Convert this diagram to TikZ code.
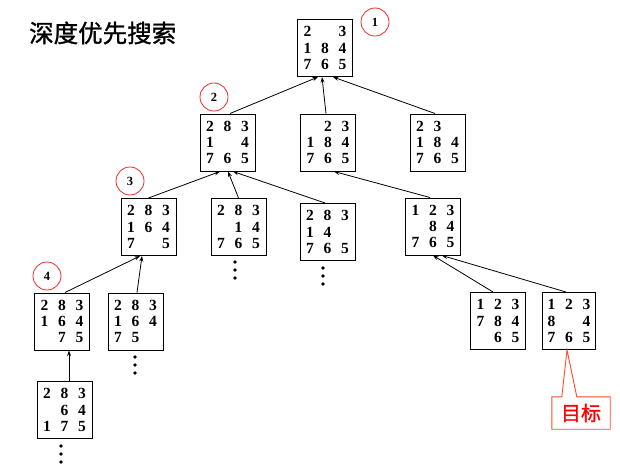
\documentclass[tikz,border=0pt]{standalone}
\usepackage{fontspec}
\setmainfont{Liberation Serif}
\newfontfamily\cjk{Noto Sans CJK SC}
\newfontfamily\cjkb[FakeBold=1.2]{Noto Sans CJK SC}
\usetikzlibrary{arrows.meta}
\definecolor{circred}{HTML}{EE2A2A}
\definecolor{callred}{HTML}{FF4A26}
\definecolor{textred}{HTML}{FF0000}
\newcommand{\cl}[1]{\makebox[17.5pt]{#1}}
\newcommand{\pz}[9]{\cl{#1}\cl{#2}\cl{#3}\\\cl{#4}\cl{#5}\cl{#6}\\\cl{#7}\cl{#8}\cl{#9}}
\tikzset{
  pbox/.style={draw=black, line width=1pt, minimum width=55pt, minimum height=57pt,
    inner sep=0pt, align=center, font=\fontsize{15.5}{16.3}\selectfont\bfseries},
  edge/.style={draw=black, line width=0.8pt, -{Stealth[length=5.5pt,width=4pt]}},
  mark circ/.style={draw=circred, line width=0.8pt, circle, minimum size=28pt, inner sep=0pt,
    font=\fontsize{12.5}{13}\selectfont\bfseries},
  dotfill/.style={fill=black},
}
\begin{document}
\begin{tikzpicture}[x=1pt,y=-1pt]
\useasboundingbox (0,0) rectangle (620,468);
% title
\node[anchor=west, inner sep=0pt, font=\cjkb\fontsize{24.5}{26}\selectfont] (title) at (29,33) {深度优先搜索};
% level 0
\node[pbox] (root) at (325,48) {\pz{2}{}{3}{1}{8}{4}{7}{6}{5}};
% level 1
\node[pbox] (n2)  at (227.5,142.5) {\pz{2}{8}{3}{1}{}{4}{7}{6}{5}};
\node[pbox] (n2b) at (328,142.5) {\pz{}{2}{3}{1}{8}{4}{7}{6}{5}};
\node[pbox] (n2c) at (437.5,142.5) {\pz{2}{3}{}{1}{8}{4}{7}{6}{5}};
% level 2
\node[pbox] (n3)  at (148.5,227) {\pz{2}{8}{3}{1}{6}{4}{7}{}{5}};
\node[pbox] (n3b) at (238.5,227) {\pz{2}{8}{3}{}{1}{4}{7}{6}{5}};
\node[pbox] (n3c) at (327.5,232) {\pz{2}{8}{3}{1}{4}{}{7}{6}{5}};
\node[pbox] (n3d) at (433,226.5) {\pz{1}{2}{3}{}{8}{4}{7}{6}{5}};
% level 3
\node[pbox] (n4)  at (62,321.5) {\pz{2}{8}{3}{1}{6}{4}{}{7}{5}};
\node[pbox] (n4b) at (135.5,321.5) {\pz{2}{8}{3}{1}{6}{4}{7}{5}{}};
\node[pbox] (n4c) at (498,321) {\pz{1}{2}{3}{7}{8}{4}{}{6}{5}};
\node[pbox, minimum width=53pt] (n4d) at (569,321) {\pz{1}{2}{3}{8}{}{4}{7}{6}{5}};
% level 4
\node[pbox] (n5) at (64.5,410) {\pz{2}{8}{3}{}{6}{4}{1}{7}{5}};
% order circles
\node[mark circ] (c1) at (375,22) {1};
\node[mark circ] (c2) at (214,97) {2};
\node[mark circ] (c3) at (130,181) {3};
\node[mark circ] (c4) at (47,276) {4};
% edges
\draw[edge] ([xshift=2.5pt]n2.north) -- ([xshift=-7pt]root.south);
\draw[edge] ([xshift=-2pt]n2b.north) -- ([xshift=-3pt]root.south);
\draw[edge] ([xshift=-2.5pt]n2c.north) -- ([xshift=8pt]root.south);
\draw[edge] (n3.north) -- ([xshift=-7.5pt]n2.south);
\draw[edge] (n3b.north) -- ([xshift=0.5pt]n2.south);
\draw[edge] ([xshift=-2.5pt]n3c.north) -- ([xshift=5.5pt]n2.south);
\draw[edge] ([xshift=-3pt]n3d.north) -- ([xshift=6pt]n2b.south);
\draw[edge] ([xshift=3pt]n4.north) -- ([xshift=-8.5pt]n3.south);
\draw[edge] ([xshift=1.5pt]n4b.north) -- ([xshift=-6.5pt]n3.south);
\draw[edge] ([xshift=-5pt]n4c.north) -- (n3d.south);
\draw[edge] ([xshift=-3pt]n4d.north) -- ([xshift=9pt]n3d.south);
\draw[edge] ([xshift=4.5pt]n5.north) -- ([xshift=7pt]n4.south);
% continuation dots
\foreach \x/\y in {235/262, 323/268, 135/357, 61/446}{
  \foreach \k in {0,1,2}{
    \fill[dotfill] (\x,\y+8*\k) circle (1.9);
  }
}
% goal callout
\node[inner sep=0pt, minimum width=58pt, minimum height=32pt, text=textred,
      font=\cjkb\fontsize{20}{22}\selectfont] (goal) at (581,413) {目标};
\draw[callred, line width=0.9pt, fill=white]
  (goal.north west) -- ([xshift=10pt]goal.north west) -- ([xshift=-2pt]n4d.south)
  -- ([xshift=25pt]goal.north west) -- (goal.north east) -- (goal.south east)
  -- (goal.south west) -- cycle;
\node[inner sep=0pt, text=textred, font=\cjkb\fontsize{20}{22}\selectfont] at (goal.center) {目标};
\end{tikzpicture}
\end{document}
